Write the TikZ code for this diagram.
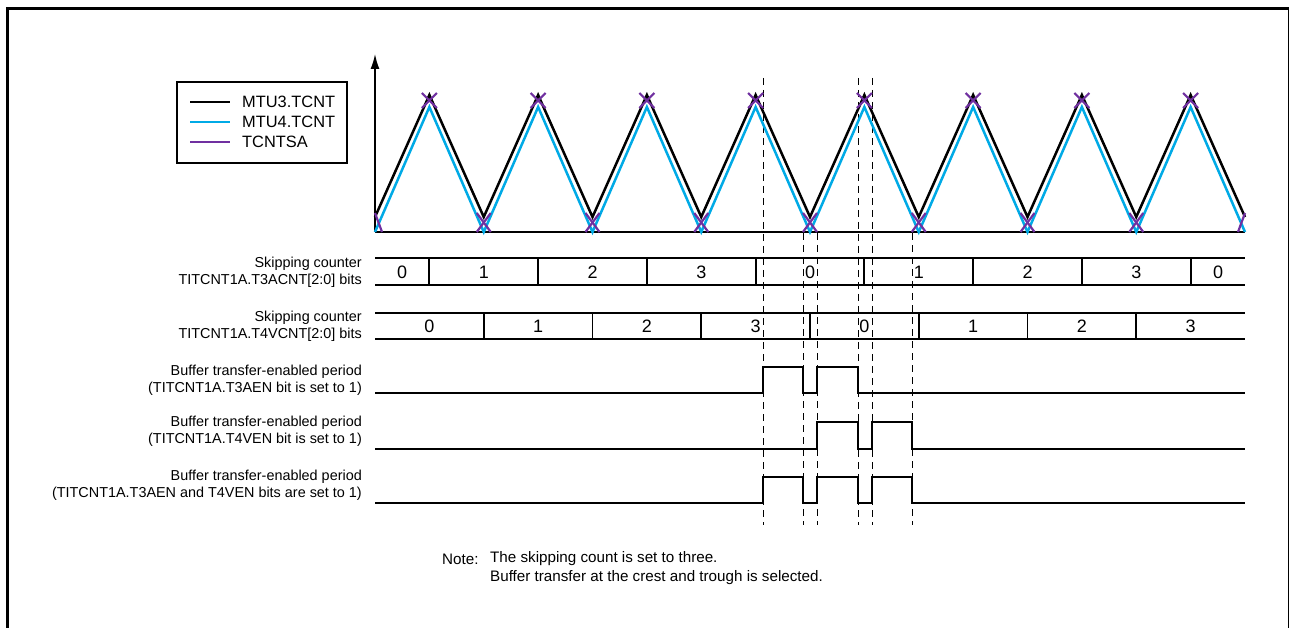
\documentclass[tikz,border=0pt]{standalone}
\usepackage{fontspec}
\setmainfont{Liberation Sans}
\usetikzlibrary{arrows.meta}
\definecolor{mtublue}{RGB}{0,170,230}
\definecolor{tpurple}{RGB}{112,48,160}
\tikzset{
  wblack/.style={black,line width=2.5pt,line join=miter},
  wblue/.style={mtublue,line width=2.5pt,line join=miter},
  wpurple/.style={tpurple,line width=2.2pt},
  sig/.style={black,line width=1.8pt,line join=miter},
  vdash/.style={black,line width=0.9pt,dash pattern=on 7pt off 5pt},
  lbl/.style={anchor=east,align=right,font=\fontsize{14.4}{17}\selectfont,inner sep=0pt},
  digit/.style={font=\fontsize{18}{18}\selectfont,inner sep=0pt},
  legtxt/.style={anchor=west,font=\fontsize{16.4}{20}\selectfont,inner sep=0pt},
  notetxt/.style={anchor=west,align=left,font=\fontsize{15.2}{19}\selectfont,inner sep=0pt}
}
\begin{document}
\begin{tikzpicture}[x=1pt,y=-1pt]
\useasboundingbox (0,0) rectangle (1290,628);
% frame
\draw[line width=3pt] (7.5,640) -- (7.5,8.5) -- (1288.5,8.5);
\draw[line width=1pt] (1288.5,8.5) -- (1288.5,640);

% legend
\node[draw,line width=1.5pt,minimum width=170pt,minimum height=81pt,inner sep=0pt] (legend) at (262,122.5) {};
\coordinate (l1a) at (190,102); \coordinate (l1b) at (230,102);
\coordinate (l2a) at (190,122); \coordinate (l2b) at (230,122);
\coordinate (l3a) at (190,142); \coordinate (l3b) at (230,142);
\draw[wblack] (l1a) -- (l1b);
\draw[wblue] (l2a) -- (l2b);
\draw[wpurple] (l3a) -- (l3b);
\node[legtxt] (t1) at (242,102) {MTU3.TCNT};
\node[legtxt] (t2) at (242,122) {MTU4.TCNT};
\node[legtxt] (t3) at (242,142) {TCNTSA};

% axes
\coordinate (origin) at (375,232);
\coordinate (ytop) at (375,54);
\coordinate (xend) at (1245,232);
\draw[line width=1.5pt] (origin) -- (xend);
\draw[line width=1.5pt,-{Latex[length=15pt,width=9pt]}] (origin) -- (ytop);

% dashed verticals
\foreach \x in {763,858,872} \draw[vdash] (\x,78) -- (\x,525);
\foreach \x in {803,817,912} \draw[vdash] (\x,233) -- (\x,525);

% waveforms
\draw[wblue] (375,232) \foreach \i in {0,...,7}{ -- ({375+(\i+0.5)*108.75},107) -- ({375+(\i+1)*108.75},232) };
\draw[wblack] (375,217) \foreach \i in {0,...,7}{ -- ({375+(\i+0.5)*108.75},95) -- ({375+(\i+1)*108.75},217) };
\foreach \i in {0,...,7}{
  \pgfmathsetmacro{\cx}{375+(\i+0.5)*108.75}
  \draw[wpurple] (\cx-7.5,93) -- (\cx+7.5,108);
  \draw[wpurple] (\cx+7.5,93) -- (\cx-7.5,108);
}
\foreach \i in {1,...,7}{
  \pgfmathsetmacro{\cx}{375+\i*108.75}
  \draw[wpurple] (\cx-7,213) -- (\cx+7,232);
  \draw[wpurple] (\cx+7,213) -- (\cx-7,232);
}
\draw[wpurple] (375,213) -- (382,232);
\draw[wpurple] (1245,213) -- (1238,232);

% counter row 1
\draw[sig] (375,258) -- (1245,258);
\draw[sig] (375,285) -- (1245,285);
\foreach \i in {0,...,7} \draw[sig] ({375+(\i+0.5)*108.75},258) -- ({375+(\i+0.5)*108.75},285);
\node[digit] (a0) at (402,272) {0};
\foreach \i/\v in {1/1,2/2,3/3,4/0,5/1,6/2,7/3} \node[digit] (a\i) at ({375+\i*108.75},272) {\v};
\node[digit] (a8) at (1218,272) {0};

% counter row 2
\draw[sig] (375,313) -- (1245,313);
\draw[sig] (375,339) -- (1245,339);
\foreach \i in {1,...,7} \draw[sig] ({375+\i*108.75},313) -- ({375+\i*108.75},339);
\foreach \i/\v in {0/0,1/1,2/2,3/3,4/0,5/1,6/2,7/3} \node[digit] (b\i) at ({375+(\i+0.5)*108.75},326) {\v};

% buffer rows
\draw[sig] (375,393) -- (763,393) -- (763,367) -- (803,367) -- (803,393) -- (817,393) -- (817,367) -- (858,367) -- (858,393) -- (1245,393);
\draw[sig] (375,449) -- (817,449) -- (817,422) -- (858,422) -- (858,449) -- (872,449) -- (872,422) -- (912,422) -- (912,449) -- (1245,449);
\draw[sig] (375,503) -- (763,503) -- (763,477) -- (803,477) -- (803,503) -- (817,503) -- (817,477) -- (858,477) -- (858,503) -- (872,503) -- (872,477) -- (912,477) -- (912,503) -- (1245,503);

% labels
\node[lbl] (r1) at (362,272.5) {Skipping counter\\TITCNT1A.T3ACNT[2:0] bits};
\node[lbl] (r2) at (362,326) {Skipping counter\\TITCNT1A.T4VCNT[2:0] bits};
\node[lbl] (r3) at (362,380.5) {Buffer transfer-enabled period\\(TITCNT1A.T3AEN bit is set to 1)};
\node[lbl] (r4) at (362,431) {Buffer transfer-enabled period\\(TITCNT1A.T4VEN bit is set to 1)};
\node[lbl] (r5) at (362,485.5) {Buffer transfer-enabled period\\(TITCNT1A.T3AEN and T4VEN bits are set to 1)};

% note
\node[notetxt] (note) at (442,559) {Note:};
\node[notetxt] (notebody) at (490,568.5) {The skipping count is set to three.\\Buffer transfer at the crest and trough is selected.};
\end{tikzpicture}
\end{document}
